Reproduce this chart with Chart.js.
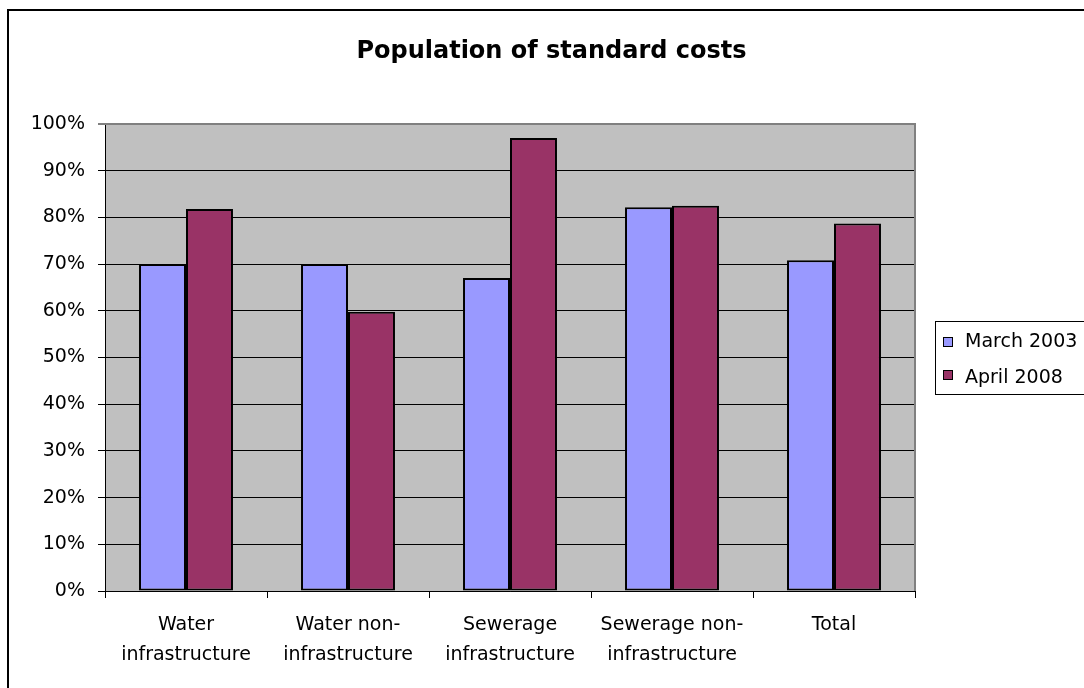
<!DOCTYPE html>
<html>
<head>
<meta charset="utf-8">
<script src="https://cdn.jsdelivr.net/npm/chart.js@4"></script>
<style>
  html, body { margin: 0; padding: 0; background: #ffffff; }
  #wrap { width: 1084px; height: 688px; }
</style>
</head>
<body>
<div id="wrap"><canvas id="c" width="1084" height="688"></canvas></div>
<script>
// Share of standard costs populated, by cost group
const categories = [
  ['Water', 'infrastructure'],
  ['Water non-', 'infrastructure'],
  ['Sewerage', 'infrastructure'],
  ['Sewerage non-', 'infrastructure'],
  'Total'
];
const seriesNames = ['March 2003', 'April 2008'];
const march2003 = [70, 70, 67, 82.2, 70.8];
const april2008 = [81.8, 59.8, 97, 82.5, 78.7];
const yTickValues = [0, 10, 20, 30, 40, 50, 60, 70, 80, 90, 100];

const seriesColors = ['#9999FF', '#993366'];
const FONT = 'DejaVu Sans';

Chart.defaults.font.family = FONT;
Chart.defaults.color = '#000000';

// Page frame, grey plot background and plot-area edge
const framePlugin = {
  id: 'frame',
  beforeDraw(chart) {
    const { ctx, chartArea: a } = chart;
    ctx.save();
    ctx.fillStyle = '#ffffff';
    ctx.fillRect(0, 0, chart.width, chart.height);
    ctx.fillStyle = '#C0C0C0';
    ctx.fillRect(a.left, a.top, a.right - a.left, a.bottom - a.top);
    ctx.strokeStyle = '#000000';
    ctx.lineWidth = 2;
    ctx.strokeRect(8, 10, 1200, 800);
    ctx.restore();
  },
  beforeDatasetsDraw(chart) {
    const { ctx, chartArea: a } = chart;
    ctx.save();
    ctx.strokeStyle = '#808080';
    ctx.lineWidth = 2;
    ctx.beginPath();
    ctx.moveTo(a.left, a.top);
    ctx.lineTo(a.right, a.top);
    ctx.lineTo(a.right, a.bottom);
    ctx.stroke();
    ctx.restore();
  }
};

// Boxed legend to the right of the plot
const boxLegendPlugin = {
  id: 'boxLegend',
  afterDraw(chart) {
    const { ctx } = chart;
    ctx.save();
    ctx.strokeStyle = '#000000';
    ctx.lineWidth = 1;
    ctx.strokeRect(935.5, 321.5, 300, 73);
    ctx.font = '19px "' + FONT + '"';
    ctx.textBaseline = 'alphabetic';
    ctx.textAlign = 'left';
    chart.data.datasets.forEach((ds, i) => {
      const sy = 337 + i * 33;
      ctx.fillStyle = ds.backgroundColor;
      ctx.fillRect(943, sy, 10, 10);
      ctx.strokeStyle = '#000000';
      ctx.strokeRect(943.5, sy + 0.5, 9, 9);
      ctx.fillStyle = '#000000';
      ctx.fillText(ds.label, 965, 347 + i * 36);
    });
    ctx.restore();
  }
};

const barStyle = {
  borderColor: '#000000',
  borderWidth: 2,
  borderSkipped: false,
  categoryPercentage: 0.58,
  barPercentage: 1.0
};

new Chart(document.getElementById('c'), {
  type: 'bar',
  data: {
    labels: categories,
    datasets: [
      Object.assign({ label: seriesNames[0], data: march2003, backgroundColor: seriesColors[0] }, barStyle),
      Object.assign({ label: seriesNames[1], data: april2008, backgroundColor: seriesColors[1] }, barStyle)
    ]
  },
  options: {
    responsive: false,
    devicePixelRatio: 1,
    animation: false,
    layout: { padding: { left: 19, top: 0, right: 0, bottom: 0 } },
    plugins: {
      legend: { display: false },
      tooltip: { enabled: false },
      title: {
        display: true,
        text: 'Population of standard costs',
        color: '#000000',
        font: { family: FONT, size: 24, weight: 'bold' },
        padding: { top: 37, bottom: 58.2 }
      }
    },
    scales: {
      x: {
        offset: true,
        grid: {
          offset: true,
          drawOnChartArea: false,
          drawTicks: true,
          tickLength: 7,
          color: '#000000'
        },
        border: { display: true, color: '#000000', width: 1 },
        ticks: {
          color: '#000000',
          font: { family: FONT, size: 19, lineHeight: 1.53 },
          padding: 13,
          maxRotation: 0,
          autoSkip: false
        },
        afterFit(scale) { scale.height = 97; }
      },
      y: {
        min: 0,
        max: 100,
        afterBuildTicks(scale) {
          scale.ticks = yTickValues.map(v => ({ value: v }));
        },
        grid: {
          color: ctx => (ctx.tick && ctx.tick.value === 100 ? '#808080' : '#000000'),
          lineWidth: ctx => (ctx.tick && ctx.tick.value === 100 ? 2 : 1),
          tickColor: '#000000',
          tickWidth: 1,
          tickLength: 7,
          drawTicks: true
        },
        border: { display: true, color: '#000000', width: 1 },
        ticks: {
          color: '#000000',
          font: { family: FONT, size: 19 },
          padding: 13,
          callback: v => v + '%'
        },
        afterFit(scale) { scale.width = 86; }
      },
      pad: {
        type: 'linear',
        position: 'right',
        display: true,
        grid: { display: false, drawTicks: false },
        border: { display: false },
        ticks: { display: false },
        afterFit(scale) { scale.width = 169; }
      }
    }
  },
  plugins: [framePlugin, boxLegendPlugin]
});
</script>
</body>
</html>
